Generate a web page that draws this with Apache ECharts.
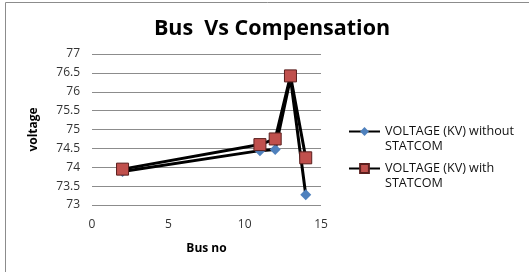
<!DOCTYPE html>
<html>
<head>
<meta charset="utf-8">
<script src="https://cdn.jsdelivr.net/npm/echarts@6/dist/echarts.min.js"></script>
<style>
  html, body { margin: 0; padding: 0; background: #fff; }
  #main { width: 529px; height: 272px; }
</style>
</head>
<body>
<div id="main"></div>
<script>
const busNo = [2, 11, 12, 13, 14];
const withoutStatcom = [73.89, 74.44, 74.47, 76.36, 73.27];
const withStatcom = [73.95, 74.6, 74.75, 76.42, 74.25];
const seriesNames = ['VOLTAGE (KV) without STATCOM', 'VOLTAGE (KV) with STATCOM'];

const chartDom = document.getElementById('main');
const myChart = echarts.init(chartDom);

const pairs = (vals) => busNo.map((x, i) => [x, vals[i]]);

// legend text: blank first line so the icon sits on the first real line
const legendBase = {
  orient: 'vertical',
  left: 348,
  padding: 0,
  itemWidth: 31,
  itemHeight: 11,
  formatter: (name) => '\n' + name.replace(' STATCOM', '\nSTATCOM'),
  textStyle: { fontSize: 12.6, color: '#111', lineHeight: 15 },
};

const option = {
  animation: false,
  textStyle: { fontFamily: 'Open Sans, DejaVu Sans, sans-serif' },
  graphic: [
    {
      type: 'rect',
      shape: { x: 5.5, y: 2.5, width: 600, height: 300 },
      style: { fill: 'none', stroke: '#8c8c8c', lineWidth: 1 },
      silent: true,
    },
  ],
  title: {
    text: 'Bus  Vs Compensation',
    left: 267,
    textAlign: 'center',
    top: 13,
    textStyle: { fontSize: 21.5, fontWeight: 'bold', color: '#000', fontFamily: 'Open Sans, sans-serif' },
  },
  legend: [
    Object.assign({}, legendBase, { top: 109, data: [seriesNames[0]] }),
    Object.assign({}, legendBase, { top: 146, data: [seriesNames[1]] }),
  ],
  grid: {
    left: 92,
    right: 208,
    top: 54,
    bottom: 67,
  },
  xAxis: {
    type: 'value',
    min: 0,
    max: 15,
    interval: 5,
    name: 'Bus no',
    nameLocation: 'middle',
    nameGap: 38,
    nameTextStyle: { fontSize: 12, fontWeight: 'bold', color: '#000' },
    axisLine: { show: false },
    axisTick: { show: false },
    splitLine: { show: false },
    axisLabel: { fontSize: 12, color: '#333', margin: 14 },
  },
  yAxis: {
    type: 'value',
    min: 73,
    max: 77,
    interval: 0.5,
    name: 'voltage',
    nameLocation: 'middle',
    nameGap: 52,
    nameTextStyle: { fontSize: 12, fontWeight: 'bold', color: '#000' },
    axisLine: { show: false },
    axisTick: { show: false },
    splitLine: { show: true, lineStyle: { color: '#8c8c8c', width: 1 } },
    axisLabel: { fontSize: 12, color: '#333', margin: 12 },
  },
  series: [
    {
      name: seriesNames[0],
      type: 'line',
      data: pairs(withoutStatcom),
      symbol: 'diamond',
      symbolSize: 11,
      lineStyle: { color: '#000', width: 3 },
      itemStyle: { color: '#4f81bd', borderColor: '#4f81bd', borderWidth: 0 },
      z: 2,
    },
    {
      name: seriesNames[1],
      type: 'line',
      data: pairs(withStatcom),
      symbol: 'rect',
      symbolSize: 12,
      lineStyle: { color: '#000', width: 3 },
      itemStyle: { color: '#c0504d', borderColor: '#5a1f1e', borderWidth: 1 },
      z: 3,
    },
  ],
};

option && myChart.setOption(option);
</script>
</body>
</html>
